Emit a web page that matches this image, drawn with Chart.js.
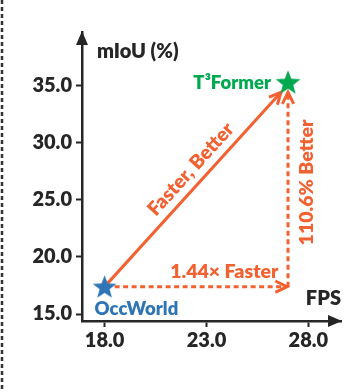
<!DOCTYPE html>
<html>
<head>
<meta charset="utf-8">
<script src="https://cdn.jsdelivr.net/npm/chart.js@4.4.1/dist/chart.umd.min.js"></script>
<style>
  html, body { margin: 0; padding: 0; background: #ffffff; }
  #wrap { width: 355px; height: 392px; }
</style>
</head>
<body>
<div id="wrap"><canvas id="c" width="355" height="392"></canvas></div>
<script>
// ---- data ----
const models = ['OccWorld', 'T\u00B3Former'];
const fps = [18.0, 27.0];
const miou = [17.4, 35.3];
const xTicks = [18.0, 23.0, 28.0];
const yTicks = [15.0, 20.0, 25.0, 30.0, 35.0];
const xTitle = 'FPS';
const yTitle = 'mIoU (%)';
const speedText = '1.44\u00D7 Faster';
const accText = '110.6% Better';
const bothText = 'Faster, Better';

// ---- styles ----
const INK = '#262626';
const BLUE = '#2E75B6';
const GREEN = '#00A84F';
const ORANGE = '#F26131';
const FONT = 'Lato';
const W = '800';

function makeStar(color, r) {
  const size = Math.ceil(r * 2 + 2);
  const cv = document.createElement('canvas');
  cv.width = size; cv.height = size;
  const g = cv.getContext('2d');
  const c = size / 2, ri = r * 0.42;
  g.beginPath();
  for (let i = 0; i < 10; i++) {
    const rr = i % 2 === 0 ? r : ri;
    const a = -Math.PI / 2 + i * Math.PI / 5;
    const px = c + rr * Math.cos(a), py = c + 1 + rr * Math.sin(a);
    if (i === 0) g.moveTo(px, py); else g.lineTo(px, py);
  }
  g.closePath();
  g.fillStyle = color;
  g.fill();
  return cv;
}

function chevron(ctx, tx, ty, angle, len, spread) {
  ctx.beginPath();
  ctx.moveTo(tx - len * Math.cos(angle - spread), ty - len * Math.sin(angle - spread));
  ctx.lineTo(tx, ty);
  ctx.lineTo(tx - len * Math.cos(angle + spread), ty - len * Math.sin(angle + spread));
  ctx.stroke();
}

const decor = {
  id: 'decor',
  beforeDatasetsDraw(chart) {
    const ctx = chart.ctx, xs = chart.scales.x, ys = chart.scales.y, ca = chart.chartArea;
    ctx.save();
    // left dashed frame line
    ctx.strokeStyle = '#333';
    ctx.lineWidth = 2.5;
    ctx.setLineDash([4, 3]);
    ctx.beginPath(); ctx.moveTo(2, 0); ctx.lineTo(2, chart.height); ctx.stroke();
    ctx.setLineDash([]);

    // axis arrowheads
    ctx.fillStyle = INK;
    ctx.beginPath();
    ctx.moveTo(ca.left, ca.top - 1);
    ctx.lineTo(ca.left - 6, ca.top + 13);
    ctx.lineTo(ca.left + 6, ca.top + 13);
    ctx.closePath(); ctx.fill();
    ctx.beginPath();
    ctx.moveTo(ca.right + 1, ca.bottom);
    ctx.lineTo(ca.right - 13, ca.bottom - 6);
    ctx.lineTo(ca.right - 13, ca.bottom + 6);
    ctx.closePath(); ctx.fill();

    const x0 = xs.getPixelForValue(fps[0]), y0 = ys.getPixelForValue(miou[0]);
    const x1 = xs.getPixelForValue(fps[1]), y1 = ys.getPixelForValue(miou[1]);

    ctx.strokeStyle = ORANGE;
    ctx.lineWidth = 3;
    ctx.lineCap = 'butt';
    // diagonal solid arrow
    const dtx = x1 - 7, dty = y1 + 10;
    ctx.beginPath(); ctx.moveTo(x0, y0); ctx.lineTo(dtx, dty); ctx.stroke();
    const ang = Math.atan2(dty - y0, dtx - x0);
    chevron(ctx, dtx, dty, ang, 13, 0.45);

    // horizontal dashed arrow
    ctx.setLineDash([5, 3.5]);
    ctx.beginPath(); ctx.moveTo(x0 + 10, y0); ctx.lineTo(x1 - 2, y0); ctx.stroke();
    // vertical dashed arrow
    ctx.beginPath(); ctx.moveTo(x1, y0); ctx.lineTo(x1, y1 + 12); ctx.stroke();
    ctx.setLineDash([]);
    chevron(ctx, x1 - 1, y0, 0, 13, 0.45);
    chevron(ctx, x1, y1 + 10, -Math.PI / 2, 13, 0.45);
    ctx.restore();
  },
  afterDatasetsDraw(chart) {
    const ctx = chart.ctx, xs = chart.scales.x, ys = chart.scales.y, ca = chart.chartArea;
    const x0 = xs.getPixelForValue(fps[0]), y0 = ys.getPixelForValue(miou[0]);
    const x1 = xs.getPixelForValue(fps[1]), y1 = ys.getPixelForValue(miou[1]);
    ctx.save();
    ctx.textBaseline = 'middle';
    // axis titles
    ctx.font = W + ' 20px ' + FONT;
    ctx.fillStyle = INK;
    ctx.textAlign = 'left';
    ctx.fillText(yTitle, ca.left + 15, ca.top + 20);
    ctx.textAlign = 'right';
    ctx.fillText(xTitle, ca.right, ca.bottom - 22);
    // model labels
    ctx.font = W + ' 18.5px ' + FONT;
    ctx.fillStyle = BLUE;
    ctx.textAlign = 'left';
    ctx.fillText(models[0], x0 - 10, y0 + 22);
    ctx.fillStyle = GREEN;
    ctx.textAlign = 'right';
    ctx.fillText(models[1], x1 - 17, y1 + 1);
    // annotation texts
    ctx.font = W + ' 19.5px ' + FONT;
    ctx.fillStyle = ORANGE;
    ctx.textAlign = 'center';
    ctx.fillText(speedText, (x0 + x1) / 2 + 28, y0 - 15);
    ctx.save();
    ctx.translate(x1 + 19, (y0 + y1) / 2 - 2);
    ctx.rotate(-Math.PI / 2);
    ctx.fillText(accText, 0, 0);
    ctx.restore();
    ctx.save();
    const ang = Math.atan2((y1 + 10) - y0, (x1 - 7) - x0);
    const f = 0.552;
    const mx = x0 + ((x1 - 7) - x0) * f, my = y0 + ((y1 + 10) - y0) * f;
    ctx.translate(mx + 15 * Math.sin(ang), my - 15 * Math.cos(ang));
    ctx.rotate(ang);
    ctx.fillText(bothText, 0, 0);
    ctx.restore();
    ctx.restore();
  }
};

const tickFont = { family: FONT, weight: W, size: 20 };

new Chart(document.getElementById('c'), {
  type: 'scatter',
  data: {
    datasets: [
      { label: models[0], data: [{ x: fps[0], y: miou[0] }], pointStyle: makeStar(BLUE, 12.5), pointRadius: 13 },
      { label: models[1], data: [{ x: fps[1], y: miou[1] }], pointStyle: makeStar(GREEN, 13), pointRadius: 13 }
    ]
  },
  options: {
    responsive: false,
    animation: false,
    devicePixelRatio: 1,
    layout: { padding: { top: 32, right: 2, left: 0, bottom: 0 } },
    plugins: { legend: { display: false }, tooltip: { enabled: false } },
    scales: {
      x: {
        type: 'linear', min: 16.89, max: 29.6,
        afterBuildTicks: s => { s.ticks = xTicks.map(v => ({ value: v })); },
        afterFit: s => { s.height = 71; },
        ticks: { callback: v => Number(v).toFixed(1), font: tickFont, color: INK, padding: 2, maxRotation: 0 },
        grid: { drawOnChartArea: false, tickLength: 6, tickWidth: 2, tickColor: INK },
        border: { color: INK, width: 2.5 }
      },
      y: {
        type: 'linear', min: 14.39, max: 39.7,
        afterBuildTicks: s => { s.ticks = yTicks.map(v => ({ value: v })); },
        afterFit: s => { s.width = 82; },
        ticks: { callback: v => Number(v).toFixed(1), font: tickFont, color: INK, padding: 4 },
        grid: { drawOnChartArea: false, tickLength: 6, tickWidth: 2, tickColor: INK },
        border: { color: INK, width: 2.5 }
      }
    }
  },
  plugins: [decor]
});
</script>
</body>
</html>
